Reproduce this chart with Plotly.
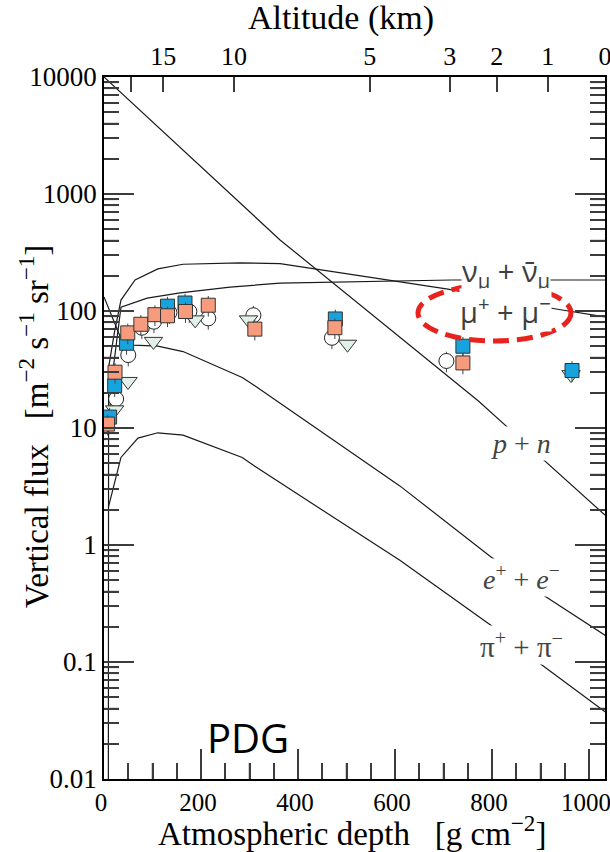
import math
import plotly.graph_objects as go

# ---- model curves (atmospheric depth in g/cm^2, vertical flux) ----
depth_pn = [0, 363, 772, 1033]
flux_pn = [10000, 405, 17, 1.8]

depth_nu = [9, 18.5, 35, 89, 157, 260, 363, 717, 1033]
flux_nu = [10, 31, 108, 129, 143, 160, 173, 184, 184]

depth_mu = [9, 9.5, 21.6, 35, 64, 111, 163, 229, 280, 363, 500, 709, 850, 932, 1033]
flux_mu = [0.01, 33, 66, 124, 184, 229, 251, 257, 258, 254, 208, 154, 120, 104, 89]

depth_e = [0, 39, 60, 111, 163, 285, 311, 610, 798, 903, 1035]
flux_e = [132, 53, 51, 50, 45, 27, 23, 3.2, 0.79, 0.38, 0.167]

depth_pi = [9, 35, 70, 111, 163, 285, 311, 610, 802, 889, 1035]
flux_pi = [2.1, 5.6, 8.2, 9.1, 8.7, 5.6, 4.7, 0.74, 0.2, 0.104, 0.037]

# ---- measured muon data ----
circ_depth = [25, 50, 78, 103, 135, 176, 215, 308, 470, 706]
circ_flux = [17.7, 42, 72, 81, 97, 99, 86.5, 92, 59, 37.4]

tri_depth = [22, 49.5, 102, 188, 298, 502, 963]
tri_flux = [14.3, 25, 55, 84, 84, 52, 28.6]

blue_depth = [11.5, 22, 46.5, 131, 167, 477, 740, 965]
blue_flux = [12.4, 23, 53, 110, 117, 85.5, 50, 31]

salm_depth = [7.4, 22.7, 49, 76, 105, 131, 168, 215, 311, 476, 740]
salm_flux = [10.8, 30, 65, 77, 93, 91, 99, 112, 70, 72, 36]

# ---- axes ticks ----
X_MAX = 1033
x_ticks = [0, 200, 400, 600, 800, 1000]
x_minor = [50, 100, 150, 250, 300, 350, 450, 500, 550, 650, 700, 750, 850, 900, 950]
y_ticks = [0.01, 0.1, 1, 10, 100, 1000, 10000]
y_ticktext = ["0.01", "0.1", "1", "10", "100", "1000", "10000"]
y_minor = [m * 10.0 ** e for e in range(-2, 4) for m in range(2, 10)]
alt_depth = [56, 122, 268, 548, 713, 810, 915, 1033]
alt_labels = ["", "15", "10", "5", "3", "2", "1", "0"]

SERIF = "Liberation Serif"
SANS = "Open Sans"
LINE = "#1a1a1a"
TICK = "#3c3c3c"

PW, PH = 501, 702

fig = go.Figure()

for d, f in [(depth_pn, flux_pn), (depth_nu, flux_nu), (depth_mu, flux_mu),
             (depth_e, flux_e), (depth_pi, flux_pi)]:
    fig.add_trace(go.Scatter(x=d, y=f, mode="lines",
                             line=dict(color=LINE, width=1.2),
                             showlegend=False, hoverinfo="skip"))

err = dict(type="percent", value=20, thickness=1, width=0, color="#444")

fig.add_trace(go.Scatter(x=circ_depth, y=circ_flux, mode="markers", error_y=err,
                         marker=dict(symbol="circle", size=15, color="white",
                                     line=dict(color="#222", width=1)),
                         showlegend=False))
fig.add_trace(go.Scatter(x=tri_depth, y=tri_flux, mode="markers",
                         marker=dict(symbol="triangle-down", size=16, color="#e1f1e8",
                                     line=dict(color="#333", width=1)),
                         showlegend=False))
fig.add_trace(go.Scatter(x=blue_depth, y=blue_flux, mode="markers", error_y=err,
                         marker=dict(symbol="square", size=14, color="#17a3de",
                                     line=dict(color="#333", width=1)),
                         showlegend=False))
fig.add_trace(go.Scatter(x=salm_depth, y=salm_flux, mode="markers", error_y=err,
                         marker=dict(symbol="square", size=14, color="#f79b7d",
                                     line=dict(color="#333", width=1)),
                         showlegend=False))
fig.add_trace(go.Scatter(x=[None], y=[None], xaxis="x2", yaxis="y",
                         showlegend=False, hoverinfo="skip"))

fig.update_layout(
    template="none",
    width=610, height=852,
    margin=dict(l=104, r=5, t=77, b=73),
    paper_bgcolor="white", plot_bgcolor="white",
    showlegend=False,
    font=dict(family=SERIF, color="black"),
    xaxis=dict(range=[0, X_MAX], tickmode="array", tickvals=x_ticks, ticks="inside",
               ticklen=30, tickwidth=1.5, tickcolor=TICK,
               minor=dict(tickmode="array", tickvals=x_minor, ticks="inside",
                          ticklen=16, tickwidth=1.5, tickcolor=TICK, showgrid=False),
               showline=True, linecolor="black", linewidth=1.5,
               ticklabeloverflow="allow", ticklabelshift=-3,
               showgrid=False, zeroline=False, tickfont=dict(size=25, family=SERIF)),
    xaxis2=dict(overlaying="x", side="top", range=[0, X_MAX], tickmode="array",
                tickvals=alt_depth, ticktext=alt_labels, ticks="inside", ticklen=15,
                tickwidth=1.5, tickcolor=TICK,
                showline=True, linecolor="black",
                linewidth=1.5, showgrid=False, zeroline=False, ticklabeloverflow="allow",
                tickfont=dict(size=26, family=SERIF)),
    yaxis=dict(type="log", range=[-2, 4], tickmode="array", tickvals=y_ticks,
               ticktext=y_ticktext, ticks="inside", ticklen=30, tickwidth=1.5,
               tickcolor=TICK,
               minor=dict(tickmode="array", tickvals=y_minor, ticks="inside",
                          ticklen=15, tickwidth=1.5, tickcolor=TICK, showgrid=False),
               mirror="ticks", showline=True,
               linecolor="black", linewidth=1.5, showgrid=False, zeroline=False,
               tickfont=dict(size=27, family=SERIF)),
)

# ---- tick marks also drawn from the tick arrays (inside the frame) ----
tick_line = dict(color=TICK, width=1.5)
shapes = []
for t in x_ticks[1:]:
    shapes.append(dict(type="line", xref="x", yref="paper", x0=t, x1=t,
                       y0=0, y1=30 / PH, line=tick_line, layer="above"))
for t in x_minor:
    shapes.append(dict(type="line", xref="x", yref="paper", x0=t, x1=t,
                       y0=0, y1=16 / PH, line=tick_line, layer="above"))
for t in alt_depth[:-1]:
    shapes.append(dict(type="line", xref="x", yref="paper", x0=t, x1=t,
                       y0=1, y1=1 - 15 / PH, line=tick_line, layer="above"))
for vals, ln in [(y_ticks[1:-1], 30), (y_minor, 15)]:
    for v in vals:
        yp = (math.log10(v) + 2) / 6
        shapes.append(dict(type="line", xref="paper", yref="paper", x0=0, x1=ln / PW,
                           y0=yp, y1=yp, line=tick_line, layer="above"))
        shapes.append(dict(type="line", xref="paper", yref="paper", x0=1, x1=1 - ln / PW,
                           y0=yp, y1=yp, line=tick_line, layer="above"))

shapes.append(dict(type="circle", xref="paper", yref="paper",
                   x0=(418 - 104) / PW, x1=(571 - 104) / PW,
                   y0=(779 - 341) / PH, y1=(779 - 285) / PH,
                   line=dict(color="#e8231e", width=5, dash="16px,8px"), layer="above"))
fig.update_layout(shapes=shapes)

anns = []
anns.append(dict(text="Altitude (km)", xref="paper", yref="paper",
                 x=(341 - 104) / PW, y=(779 - 18) / PH, showarrow=False,
                 font=dict(size=34, family=SERIF), xanchor="center", yanchor="middle"))
anns.append(dict(text="Atmospheric depth   [g cm<sup>−2</sup>]", xref="paper", yref="paper",
                 x=(352 - 104) / PW, y=(779 - 831) / PH, showarrow=False,
                 font=dict(size=33, family=SERIF), xanchor="center", yanchor="middle"))
anns.append(dict(text="Vertical flux   [m<sup>−2</sup> s<sup>−1</sup> sr<sup>−1</sup>]",
                 xref="paper", yref="paper", textangle=-90,
                 x=(34 - 104) / PW, y=(779 - 427) / PH, showarrow=False,
                 font=dict(size=33, family=SERIF), xanchor="center", yanchor="middle"))
anns.append(dict(text="ν<sub>μ</sub> + ν̄<sub>μ</sub>", x=(506 - 104) / 0.485,
                 y=4 - (272 - 77) / 117, showarrow=False, bgcolor="white", borderpad=0,
                 font=dict(size=29, family=SANS, color="#404040")))
anns.append(dict(text="μ<sup>+</sup> + μ<sup>−</sup>", x=(505 - 104) / 0.485,
                 y=4 - (310 - 77) / 117, showarrow=False, bgcolor="white", borderpad=0,
                 font=dict(size=29, family=SANS, color="#404040")))
anns.append(dict(text="<i>p</i> + <i>n</i>", x=(521 - 104) / 0.485,
                 y=4 - (443 - 77) / 117, showarrow=False, bgcolor="white", borderpad=1,
                 font=dict(size=28, family=SERIF, color="#444")))
anns.append(dict(text="<i>e</i><sup>+</sup> + <i>e</i><sup>−</sup>", x=(521 - 104) / 0.485,
                 y=4 - (577 - 77) / 117, showarrow=False, bgcolor="white", borderpad=1,
                 font=dict(size=28, family=SERIF, color="#444")))
anns.append(dict(text="π<sup>+</sup> + π<sup>−</sup>", x=(521 - 104) / 0.485,
                 y=4 - (645 - 77) / 117, showarrow=False, bgcolor="white", borderpad=1,
                 font=dict(size=29, family=SERIF, color="#444")))
anns.append(dict(text="PDG", xref="paper", yref="paper",
                 x=(248 - 104) / PW, y=(779 - 737) / PH, showarrow=False,
                 font=dict(size=40, family=SANS, color="black"),
                 xanchor="center", yanchor="middle"))
fig.update_layout(annotations=anns)

fig.write_html("out.html")
